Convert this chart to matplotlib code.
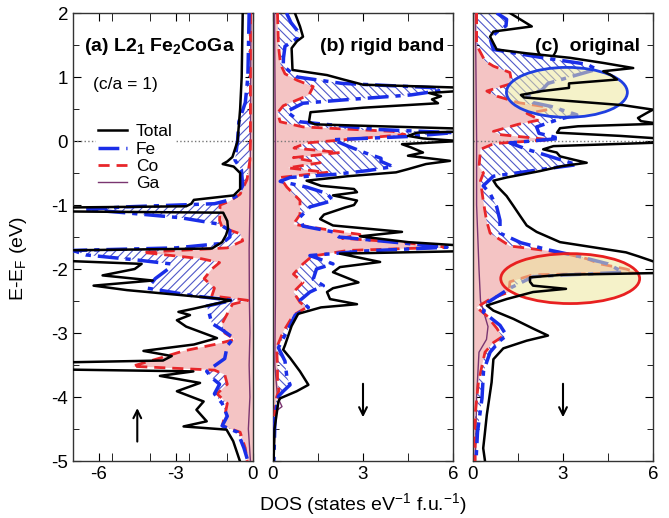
import numpy as np
import matplotlib
matplotlib.use("Agg")
import matplotlib.pyplot as plt
from matplotlib.patches import Ellipse
from matplotlib.lines import Line2D

plt.rcParams['font.family'] = ['Liberation Sans', 'DejaVu Sans']
plt.rcParams['mathtext.fontset'] = 'custom'
plt.rcParams['mathtext.rm'] = 'Liberation Sans'
plt.rcParams['mathtext.bf'] = 'Liberation Sans:bold'
plt.rcParams['axes.unicode_minus'] = False
plt.rcParams['hatch.linewidth'] = 0.8

# ---- panel (a): L2_1 Fe2CoGa, spin up (plotted negative) ----
a_tot_E = [2.0, 1.5, 1.0, 0.5, 0.0, -0.25, -0.32, -0.36, -0.40, -0.5, -0.75, -0.85, -0.92, -0.98, -1.02,
           -1.04, -1.10, -1.12, -1.25, -1.37, -1.47, -1.58, -1.68, -1.71, -1.87, -1.92, -2.0, -2.10, -2.18,
           -2.26, -2.33, -2.46, -2.49, -2.62, -2.67, -2.72, -2.80, -2.90, -3.08, -3.18, -3.28, -3.36, -3.43,
           -3.46, -3.57, -3.60, -3.67, -3.78, -3.91, -4.07, -4.20, -4.38, -4.46, -4.51, -4.69, -5.0]
a_tot_D = [-0.40, -0.42, -0.44, -0.50, -0.60, -0.80, -1.00, -1.18, -0.75, -0.50, -0.50, -0.75, -2.3, -2.4, -2.6,
           -7.5, -7.5, -1.16, -1.0, -0.97, -1.05, -1.2, -1.6, -7.5, -7.5, -4.33, -4.6, -5.85, -3.9,
           -6.2, -4.9, -1.4, -0.87, -2.3, -2.9, -2.45, -2.96, -2.6, -1.4, -2.3, -4.26, -3.16, -3.5,
           -7.5, -7.5, -2.32, -3.62, -2.06, -2.96, -1.92, -2.2, -1.8, -2.7, -1.03, -0.77, -0.51]
a_fe_E = [2.0, 1.0, 0.6, 0.3, 0.0, -0.3, -0.45, -0.7, -0.85, -0.92, -0.98, -1.03, -1.07, -1.12, -1.2, -1.3,
          -1.4, -1.5, -1.6, -1.67, -1.71, -1.78, -1.86, -1.92, -2.0, -2.15, -2.3, -2.42, -2.49, -2.58, -2.7,
          -2.85, -2.95, -3.08, -3.2, -3.4, -3.6, -3.7, -3.8, -3.95, -4.1, -4.3, -4.45, -4.55, -4.8, -5.0]
a_fe_D = [-0.15, -0.2, -0.3, -0.55, -0.6, -0.7, -0.45, -0.4, -0.6, -0.9, -1.5, -5.0, -6.5, -5.0, -2.8, -1.3,
          -0.9, -0.9, -1.2, -3.0, -7.0, -6.5, -4.5, -3.2, -3.3, -3.8, -4.1, -2.3, -0.8, -1.8, -1.7,
          -1.6, -1.2, -0.75, -1.0, -1.1, -1.8, -1.6, -1.3, -1.5, -1.2, -1.0, -1.2, -0.6, -0.35, -0.2]
a_co_E = [2.0, 0.0, -0.3, -0.6, -0.83, -0.94, -1.0, -1.24, -1.35, -1.45, -1.56, -1.67, -1.74, -1.84, -1.9,
          -2.0, -2.15, -2.3, -2.42, -2.49, -2.55, -2.7, -2.85, -3.0, -3.1, -3.18, -3.28, -3.39, -3.52, -3.58,
          -3.65, -3.8, -3.95, -4.1, -4.3, -4.45, -4.55, -4.8, -5.0]
a_co_D = [-0.1, -0.1, -0.12, -0.23, -0.5, -0.9, -1.28, -1.3, -1.2, -0.5, -0.4, -1.0, -4.3, -2.0, -1.3,
          -1.6, -1.9, -1.5, -1.6, -0.2, -0.8, -1.0, -1.2, -1.1, -0.7, -1.5, -2.7, -3.6, -4.7, -1.5,
          -1.1, -1.0, -1.4, -1.0, -1.1, -1.2, -0.5, -0.3, -0.23]
a_ga_E = [2.0, 0.0, -1.0, -1.7, -2.5, -3.0, -3.5, -4.0, -4.5, -5.0]
a_ga_D = [-0.08, -0.1, -0.12, -0.15, -0.14, -0.12, -0.15, -0.12, -0.18, -0.1]

# ---- panel (b): rigid band, spin down ----
b_tot_E = [2.0, 1.79, 1.63, 1.56, 1.45, 1.11, 1.03, 0.96, 0.88, 0.83, 0.79, 0.75, 0.70, 0.65, 0.59, 0.52,
           0.45, 0.30, 0.26, 0.19, 0.15, 0.13, 0.08, 0.04, 0.0, -0.05, -0.10, -0.18, -0.23, -0.31, -0.36,
           -0.44, -0.49, -0.55, -0.62, -0.70, -0.75, -0.80, -0.85, -0.93, -1.0, -1.04, -1.15, -1.22, -1.32,
           -1.42, -1.49, -1.58, -1.64, -1.72, -1.76, -1.89, -1.97, -2.05, -2.21, -2.30, -2.36, -2.47, -2.55,
           -2.60, -2.70, -2.89, -3.19, -3.26, -3.39, -3.60, -3.81, -3.91, -4.02, -4.07, -4.50, -5.0]
b_tot_D = [0.73, 0.9, 1.0, 0.8, 0.62, 0.65, 1.8, 2.35, 3.0, 6.5, 6.5, 5.2, 5.6, 5.3, 5.5, 3.0,
           1.25, 1.2, 1.4, 6.5, 6.5, 4.8, 4.5, 5.0, 6.2, 4.3, 4.6, 5.0, 4.5, 5.9, 5.1,
           4.5, 4.1, 2.5, 1.12, 1.6, 2.7, 2.8, 2.0, 2.8, 2.7, 2.4, 1.7, 1.57, 2.0,
           4.3, 2.9, 4.5, 6.5, 6.5, 2.23, 3.57, 2.23, 2.0, 2.85, 2.0, 1.8, 1.9, 2.8,
           1.6, 0.84, 0.62, 0.4, 0.34, 0.57, 0.9, 1.18, 0.79, 0.24, 0.18, 0.05, 0.02]
b_fe_E = [2.0, 1.85, 1.7, 1.6, 1.48, 1.3, 1.17, 1.0, 0.9, 0.83, 0.79, 0.72, 0.64, 0.59, 0.46, 0.3, 0.18,
          0.13, 0.07, 0.02, -0.08, -0.19, -0.27, -0.32, -0.4, -0.46, -0.52, -0.57, -0.63, -0.72, -0.82,
          -0.93, -1.03, -1.19, -1.33, -1.42, -1.5, -1.58, -1.66, -1.72, -1.79, -1.92, -2.0, -2.16, -2.26,
          -2.36, -2.49, -2.6, -2.72, -2.98, -3.23, -3.44, -3.68, -3.81, -3.91, -3.99, -4.28, -5.0]
b_fe_D = [0.45, 0.6, 0.85, 0.8, 0.4, 0.35, 0.34, 0.8, 2.3, 5.5, 5.6, 4.6, 2.3, 1.0, 0.46, 0.9, 3.5,
          6.0, 4.5, 2.0, 2.5, 3.1, 3.6, 3.6, 4.0, 3.2, 2.1, 0.57, 0.24, 1.12, 1.8,
          2.0, 1.23, 0.9, 1.0, 2.0, 2.2, 4.0, 5.8, 3.0, 1.23, 2.0, 1.45, 1.34, 1.68,
          1.23, 0.9, 1.18, 0.74, 0.46, 0.18, 0.4, 0.46, 0.57, 0.34, 0.18, 0.07, 0.03]
b_co_E = [2.0, 1.5, 1.2, 1.05, 0.95, 0.85, 0.72, 0.66, 0.55, 0.44, 0.3, 0.22, 0.15, 0.1, 0.04, -0.03,
          -0.11, -0.18, -0.26, -0.34, -0.42, -0.49, -0.57, -0.72, -0.93, -1.15, -1.3, -1.4, -1.46, -1.52,
          -1.58, -1.66, -1.71, -1.8, -1.92, -2.08, -2.21, -2.36, -2.52, -2.6, -2.72, -2.98, -3.23, -3.5,
          -3.76, -3.9, -4.0, -4.2, -4.5, -5.0]
b_co_D = [0.15, 0.18, 0.25, 0.4, 0.8, 1.34, 1.2, 0.9, 0.34, 0.15, 0.24, 1.0, 4.0, 4.4, 2.9, 1.12,
          0.7, 2.23, 0.68, 1.57, 0.5, 1.8, 0.24, 0.46, 0.9, 0.9, 0.68, 2.0, 2.9, 2.3,
          4.2, 5.8, 2.5, 1.3, 1.0, 0.68, 1.0, 0.68, 0.9, 1.12, 0.68, 0.34, 0.12, 0.15,
          0.15, 0.2, 0.12, 0.07, 0.03, 0.01]
b_ga_E = [2.0, 0.0, -1.7, -2.5, -3.5, -4.0, -4.15, -4.22, -5.0]
b_ga_D = [0.05, 0.08, 0.08, 0.08, 0.06, 0.15, 0.3, 0.1, 0.02]

# ---- panel (c): original, spin down ----
c_tot_E = [2.0, 1.79, 1.71, 1.63, 1.43, 1.37, 1.30, 1.22, 1.14, 1.09, 1.03, 0.96, 0.90, 0.83, 0.78, 0.72,
           0.68, 0.56, 0.49, 0.44, 0.36, 0.31, 0.27, 0.23, 0.20, 0.13, 0.08, 0.03, -0.02, -0.08, -0.13,
           -0.18, -0.24, -0.29, -0.34, -0.39, -0.47, -0.57, -0.62, -0.70, -0.86, -1.01, -1.17, -1.32,
           -1.42, -1.58, -1.66, -1.74, -1.80, -1.88, -1.92, -2.06, -2.09, -2.13, -2.20, -2.26, -2.31,
           -2.36, -2.47, -2.57, -2.65, -2.78, -2.93, -3.04, -3.12, -3.24, -3.41, -3.77, -4.28, -4.59,
           -4.80, -5.0]
c_tot_D = [1.23, 1.96, 0.68, 0.57, 0.79, 1.79, 3.23, 4.34, 5.34, 4.34, 4.6, 4.8, 3.2, 3.2, 2.3, 1.6,
           1.7, 5.0, 6.0, 5.8, 5.5, 5.6, 6.2, 3.5, 2.9, 2.8, 4.9, 6.5, 6.5, 2.68, 2.34,
           2.79, 2.9, 3.34, 3.79, 3.0, 2.23, 1.12, 0.68, 0.79, 1.12, 1.34, 1.57, 1.79,
           2.12, 2.9, 4.0, 5.1, 5.5, 6.0, 6.5, 6.5, 3.0, 1.9, 1.9, 2.0, 3.1,
           2.0, 1.12, 0.46, 0.68, 1.35, 2.0, 2.5, 1.79, 1.01, 0.68, 0.62, 0.46, 0.39,
           0.34, 0.4]
c_fe_E = [2.0, 1.9, 1.8, 1.7, 1.6, 1.43, 1.3, 1.2, 1.12, 1.01, 0.9, 0.8, 0.7, 0.6, 0.54, 0.41, 0.33,
          0.22, 0.12, 0.04, -0.03, -0.13, -0.29, -0.37, -0.43, -0.55, -0.7, -0.82, -1.03, -1.24, -1.44,
          -1.59, -1.7, -1.8, -1.92, -2.05, -2.12, -2.3, -2.52, -2.67, -2.88, -3.04, -3.12, -3.3, -3.6,
          -4.02, -4.55, -5.0]
c_fe_D = [0.79, 1.12, 1.1, 0.79, 0.57, 0.68, 2.34, 3.79, 4.12, 3.3, 2.5, 2.3, 1.8, 2.0, 2.6, 3.46, 2.8,
          2.12, 2.2, 2.9, 1.23, 1.8, 2.9, 3.46, 2.5, 0.68, 0.34, 0.57, 0.79, 0.9, 0.9,
          1.6, 2.5, 3.5, 4.5, 5.0, 2.0, 1.23, 0.5, 0.34, 0.9, 1.12, 0.9, 0.57, 0.35,
          0.3, 0.15, 0.1]
c_co_E = [2.0, 1.5, 1.25, 1.17, 1.07, 0.9, 0.78, 0.7, 0.6, 0.54, 0.49, 0.43, 0.33, 0.26, 0.15, 0.1, 0.02,
          -0.04, -0.13, -0.4, -0.5, -0.62, -0.93, -1.24, -1.44, -1.64, -1.74, -1.84, -1.92, -2.0, -2.06,
          -2.09, -2.2, -2.36, -2.47, -2.6, -2.73, -2.93, -3.06, -3.15, -3.3, -3.77, -4.28, -5.0]
c_co_D = [0.12, 0.12, 0.4, 0.68, 1.23, 1.3, 0.46, 0.8, 1.5, 2.34, 2.5, 1.8, 2.23, 1.5, 0.68, 0.9, 2.57,
          0.7, 0.25, 0.2, 0.35, 0.25, 0.34, 0.45, 0.57, 1.23, 2.9, 3.8, 4.23, 5.1, 5.5,
          2.0, 1.23, 1.2, 0.57, 0.12, 0.46, 0.8, 0.97, 0.68, 0.4, 0.18, 0.07, 0.07]
c_ga_E = [2.0, 1.0, 0.0, -1.0, -2.0, -2.5, -2.9, -3.1, -3.3, -4.0, -5.0]
c_ga_D = [0.08, 0.1, 0.12, 0.12, 0.2, 0.25, 0.5, 0.45, 0.2, 0.12, 0.08]

panels = [
    dict(tot=(a_tot_E, a_tot_D), fe=(a_fe_E, a_fe_D), co=(a_co_E, a_co_D), ga=(a_ga_E, a_ga_D),
         xlim=(-7, 0), ticks=[-6, -3, 0], hatch='////'),
    dict(tot=(b_tot_E, b_tot_D), fe=(b_fe_E, b_fe_D), co=(b_co_E, b_co_D), ga=(b_ga_E, b_ga_D),
         xlim=(0, 6), ticks=[0, 3, 6], hatch='\\\\\\\\'),
    dict(tot=(c_tot_E, c_tot_D), fe=(c_fe_E, c_fe_D), co=(c_co_E, c_co_D), ga=(c_ga_E, c_ga_D),
         xlim=(0, 6), ticks=[0, 3, 6], hatch='\\\\\\\\'),
]

fe_style = (0, (6, 2, 1.5, 2))
co_style = (0, (4, 2.5))

fig = plt.figure(figsize=(6.69, 5.18), dpi=100)
lefts = [73, 273, 473]
axes = []
for i, p in enumerate(panels):
    ax = fig.add_axes([lefts[i] / 669, 1 - 461 / 518, 180 / 669, 448 / 518])
    axes.append(ax)
    fe_E, fe_D = p['fe']
    co_E, co_D = p['co']
    ax.fill_betweenx(fe_E, fe_D, 0, facecolor='white', edgecolor='#5058c8', hatch=p['hatch'], linewidth=0, zorder=1)
    ax.fill_betweenx(co_E, co_D, 0, facecolor='#f4c4c4', edgecolor='none', linewidth=0, zorder=2)
    ax.axhline(0, color='#777777', ls=':', lw=1, zorder=2.5)
    ax.plot(p['ga'][1], p['ga'][0], color='#7a3570', lw=1, zorder=3)
    ax.plot(co_D, co_E, color='#e8262a', lw=2, ls=co_style, zorder=4)
    ax.plot(fe_D, fe_E, color='#1a2ee8', lw=2.5, ls=fe_style, zorder=5)
    ax.plot(p['tot'][1], p['tot'][0], color='black', lw=1.8, zorder=6)
    ax.set_xlim(*p['xlim'])
    ax.set_ylim(-5, 2)
    ax.set_xticks(p['ticks'])
    ax.set_xticks(np.arange(p['xlim'][0], p['xlim'][1] + 0.1, 1.5), minor=True)
    ax.set_yticks(np.arange(-5, 2.1, 1))
    ax.set_yticks(np.arange(-4.5, 2, 1), minor=True)
    ax.tick_params(which='both', direction='in', top=True, right=True, labelsize=13.5)
    ax.tick_params(which='major', length=6)
    ax.tick_params(which='minor', length=4)
    ax.xaxis.set_tick_params(which='minor', length=6)
    if i > 0:
        ax.set_yticklabels([])
    for s in ax.spines.values():
        s.set_linewidth(1)
        s.set_color('#333333')

axa, axb, axc = axes
axa.set_yticklabels(['-5', '-4', '-3', '-2', '-1', '0', '1', '2'])
axa.text(0.06, 0.915, r"(a) L2$_\mathbf{1}$ Fe$_\mathbf{2}$CoGa", transform=axa.transAxes, fontsize=14,
         fontweight='bold', zorder=10)
axa.text(0.11, 0.83, "(c/a = 1)", transform=axa.transAxes, fontsize=12.5, zorder=10)
axb.text(0.95, 0.915, "(b) rigid band", transform=axb.transAxes, fontsize=14, fontweight='bold', ha='right', zorder=10)
axc.text(0.93, 0.915, "(c)  original", transform=axc.transAxes, fontsize=14, fontweight='bold', ha='right', zorder=10)

handles = [Line2D([], [], color='black', lw=1.8),
           Line2D([], [], color='#1a2ee8', lw=2.5, ls=fe_style),
           Line2D([], [], color='#e8262a', lw=2, ls=co_style),
           Line2D([], [], color='#7a3570', lw=1)]
leg = axa.legend(handles, ['Total', 'Fe', 'Co', 'Ga'], loc='upper left', bbox_to_anchor=(0.08, 0.775),
                 frameon=True, fancybox=False, edgecolor='white', framealpha=1, fontsize=12.5,
                 handlelength=1.7, labelspacing=0.12, borderpad=0.1, handletextpad=0.5)
leg.set_zorder(10)

# highlighted regions in panel (c)
axc.add_patch(Ellipse((3.13, 0.76), 4.03, 0.78, facecolor=(0.93, 0.91, 0.62, 0.55), edgecolor='#1f3fe0', lw=2, zorder=5.5))
axc.add_patch(Ellipse((3.24, -2.15), 4.63, 0.78, facecolor=(0.93, 0.91, 0.62, 0.55), edgecolor='#e82020', lw=2, zorder=5.5))

# spin arrows
arw = dict(arrowstyle='->', lw=1.5, color='black', mutation_scale=14)
axa.annotate('', xy=(-4.5, -4.13), xytext=(-4.5, -4.74), arrowprops=arw)
axb.annotate('', xy=(3, -4.36), xytext=(3, -3.75), arrowprops=arw)
axc.annotate('', xy=(3, -4.36), xytext=(3, -3.75), arrowprops=arw)

fig.text(0.027, 0.5, r"E-E$_\mathrm{F}$ (eV)", rotation=90, va='center', ha='center', fontsize=14)
fig.text(0.542, 0.025, r"DOS (states eV$^{-1}$ f.u.$^{-1}$)", va='center', ha='center', fontsize=14)

fig.savefig('out.png', dpi=100)
